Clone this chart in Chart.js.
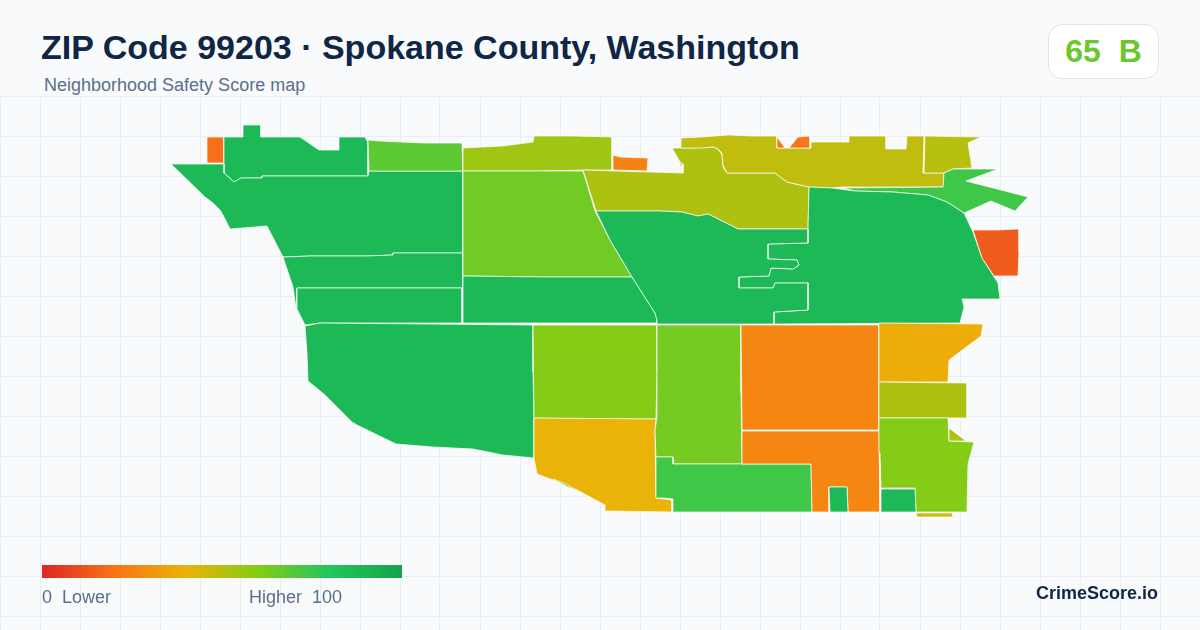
<!DOCTYPE html>
<html>
<head>
<meta charset="utf-8">
<title>ZIP Code 99203</title>
<script src="https://cdn.jsdelivr.net/npm/chart.js@4/dist/chart.umd.min.js"></script>
<style>
    html, body { margin: 0; padding: 0; background: #f8fafc; }
    body { width: 1200px; height: 630px; position: relative; overflow: hidden; font-family: "Liberation Sans", Arial, sans-serif; }
    canvas { position: absolute; left: 0; top: 0; }
    div { position: absolute; white-space: pre; }
    #header { left: 0; top: 0; width: 1200px; height: 96px; background: #f8fafc; }
    #title { left: 41px; top: 27px; font-size: 34px; line-height: 40px; font-weight: 700; color: #0f2744; }
    #subtitle { left: 44px; top: 75px; font-size: 18px; line-height: 20px; color: #5b6f8c; }
    #badge { left: 1048px; top: 24px; width: 109px; height: 53px; background: #ffffff; border: 1px solid #dde5ef; border-radius: 14px; text-align: center; font-size: 32px; line-height: 53px; font-weight: 700; color: #6cc72c; }
    #scale-bar { left: 42px; top: 565px; width: 360px; height: 13px; }
    .scale-label { top: 587px; font-size: 18px; line-height: 20px; color: #5b6f8c; }
    #brand { left: 1036px; top: 582px; font-size: 18px; line-height: 22px; font-weight: 700; color: #0f2744; }
</style>
</head>
<body>
<canvas id="map" width="1200" height="630"></canvas>
<div id="header"></div>
<div id="title">ZIP Code 99203 · Spokane County, Washington</div>
<div id="subtitle">Neighborhood Safety Score map</div>
<div id="badge">65  B</div>
<div id="scale-bar"></div>
<div class="scale-label" style="left:42px">0  Lower</div>
<div class="scale-label" style="left:249px">Higher  100</div>
<div id="brand">CrimeScore.io</div>
<script>
// tract outlines
const tractA = [[207,137],[224,137],[224,163],[207,163]];
const tractB = [[224,137],[243,137],[243,125],[261,125],[261,137],[300,137],[319,150],[339,150],[339,137],[365,137],[368,143],[368,176],[262,176],[262,178],[241,178],[234,182],[224,173]];
const tractC = [[171,164],[224,164],[224,173],[234,182],[241,178],[262,178],[262,176],[368,176],[369,171],[463,171],[463,253],[393,253],[393,255],[366,256],[310,256],[283,257],[267,226],[230,229],[223,215],[220,210],[213,203],[205,197]];
const tractD = [[283,257],[310,256],[366,256],[393,255],[393,253],[463,253],[463,288],[297,288],[297,309],[304,325],[296,308],[293,287]];
const tractE = [[297,288],[462,288],[462,323],[320,323],[305,325],[297,309]];
const tractF = [[368,140],[380,141],[423,143],[462,143],[463,171],[369,171]];
const tractG = [[463,148],[503,146],[533,142],[534,136],[573,136],[612,137],[612,170],[583,170],[538,171],[463,171]];
const tractH = [[613,155],[620,157],[648,158],[647,171],[613,170]];
const tractI = [[463,171],[583,171],[595,211],[610,240],[632,277],[547,277],[463,276]];
const tractJ = [[463,276],[547,277],[632,277],[655,313],[657,320],[657,323],[463,323]];
const tractK = [[679,162],[683,164],[683,168]];
const tractL = [[583,170],[596,211],[660,211],[682,212],[698,216],[708,214],[738,229],[808,229],[809,187],[787,182],[775,173],[727,173],[723,167],[722,155],[718,149],[713,147],[690,148],[672,148],[680,162],[683,164],[683,173]];
const tractM = [[681,138],[702,137],[728,135],[753,136],[777,136],[777,148],[811,148],[811,142],[849,142],[849,136],[886,136],[886,149],[906,149],[907,136],[924,136],[923,173],[944,173],[943,187],[843,187],[832,188],[809,187],[787,182],[775,173],[727,173],[723,165],[722,153],[718,149],[713,147],[702,148],[690,148],[681,148]];
const tractN1 = [[777,137],[785,148],[777,148]];
const tractN2 = [[789,148],[798,137],[810,136],[810,148]];
const tractO = [[925,136],[981,137],[968,143],[972,168],[953,169],[944,173],[924,173]];
const tractP = [[953,169],[998,169],[966,181],[1028,197],[1015,211],[991,201],[964,213],[947,202],[928,195],[893,192],[855,191],[843,188],[943,187],[944,173]];
const tractQ = [[809,187],[832,188],[855,191],[893,192],[928,195],[947,202],[964,213],[973,232],[982,258],[998,283],[1000,299],[962,299],[964,307],[960,323],[774,324],[774,312],[808,310],[808,283],[775,283],[773,288],[739,288],[739,277],[769,276],[771,268],[793,269],[799,265],[797,260],[768,259],[768,244],[808,243],[808,229]];
const tractR = [[596,211],[660,211],[682,212],[698,216],[708,214],[738,229],[808,229],[808,243],[768,244],[768,259],[797,260],[799,265],[793,269],[771,268],[769,276],[739,277],[739,288],[773,288],[775,283],[808,283],[808,310],[774,312],[774,324],[657,324],[657,320],[655,313],[632,277],[610,240]];
const tractS = [[973,230],[997,230],[1019,229],[1019,252],[1018,276],[994,276],[982,258]];
const tractT = [[305,326],[320,323],[427,324],[533,325],[533,372],[534,418],[534,458],[503,455],[473,449],[433,447],[396,444],[357,425],[352,422],[325,395],[308,381],[307,353]];
const tractU = [[533,325],[657,325],[657,372],[656,419],[595,419],[534,418]];
const tractV = [[534,418],[656,419],[655,430],[656,498],[664,499],[672,500],[672,512],[605,511],[605,505],[577,490],[553,480],[537,474],[534,458]];
const tractV2 = [[553,479],[566,484],[578,491],[566,486]];
const tractW = [[657,325],[741,325],[741,393],[742,464],[673,464],[673,457],[656,457],[655,430],[657,417]];
const tractX = [[656,457],[673,457],[673,464],[811,464],[812,512],[673,512],[673,499],[664,498],[656,498]];
const tractY = [[741,325],[879,325],[879,430],[742,430]];
const tractZ = [[742,431],[879,431],[880,512],[848,512],[847,487],[829,487],[829,512],[812,512],[811,464],[742,464]];
const tractAA = [[829,487],[847,487],[848,512],[830,512]];
const tractAB = [[879,323],[983,324],[981,336],[949,360],[948,382],[879,382]];
const tractAC = [[879,382],[967,383],[967,418],[879,418]];
const tractAD = [[879,418],[948,418],[949,441],[974,442],[968,464],[967,512],[916,512],[915,488],[881,488],[880,453]];
const tractAE = [[949,428],[966,441],[949,441]];
const tractAF = [[881,489],[915,489],[916,512],[881,512]];
const tractAG = [[916,513],[952,513],[953,517],[917,517]];

const tracts = [tractA, tractB, tractC, tractD, tractE, tractF, tractG, tractH, tractI, tractJ, tractK, tractL, tractM, tractN1, tractN2, tractO, tractP, tractQ, tractR, tractS, tractT, tractU, tractV, tractV2, tractW, tractX, tractY, tractZ, tractAA, tractAB, tractAC, tractAD, tractAE, tractAF, tractAG];
const tractScores = [19, 87, 87, 87, 87, 68, 55, 25, 64, 87, 33, 52, 48, 21, 21, 50, 74, 87, 87, 14, 87, 60, 40, 60, 63, 74, 26, 26, 87, 38, 52, 60, 52, 87, 46];

// legend colours at 0, 20, 40, 60, 80, 100
const scoreStops = ['#dc2626', '#f97316', '#eab308', '#84cc16', '#22c55e', '#16a34a'];

function hexToRgb(hex) {
    return [1, 3, 5].map(i => parseInt(hex.slice(i, i + 2), 16));
}

function scoreColor(score) {
    const pos = score / 20;
    const i = Math.min(Math.floor(pos), scoreStops.length - 2);
    const a = hexToRgb(scoreStops[i]);
    const b = hexToRgb(scoreStops[i + 1]);
    const c = a.map((v, k) => Math.round(v + (b[k] - v) * (pos - i)));
    return `rgb(${c[0]}, ${c[1]}, ${c[2]})`;
}

document.getElementById('scale-bar').style.background = `linear-gradient(90deg, ${scoreStops.join(', ')})`;

const datasets = tracts.map((shape, i) => ({
    data: shape.concat([shape[0]]).map(p => ({ x: p[0], y: p[1] })),
    showLine: true,
    fill: 'shape',
    tension: 0,
    pointRadius: 0,
    borderWidth: 0.7,
    borderColor: '#ffffff',
    backgroundColor: scoreColor(tractScores[i]),
    order: tracts.length - i // later tracts paint on top
}));

new Chart(document.getElementById('map'), {
    type: 'scatter',
    data: { datasets: datasets },
    options: {
        responsive: false,
        animation: false,
        layout: { padding: 0 },
        plugins: { legend: { display: false }, tooltip: { enabled: false } },
        scales: {
            x: {
                min: 0,
                max: 1200,
                ticks: { display: false, stepSize: 40 },
                border: { display: false },
                grid: { color: '#e9eef5', drawTicks: false }
            },
            y: {
                min: 0,
                max: 630,
                reverse: true,
                afterBuildTicks: axis => {
                    const ticks = [];
                    for (let v = 96; v <= 630; v += 40) ticks.push({ value: v });
                    axis.ticks = ticks;
                },
                ticks: { display: false },
                border: { display: false },
                grid: { color: '#e9eef5', drawTicks: false }
            }
        }
    }
});
</script>
</body>
</html>
